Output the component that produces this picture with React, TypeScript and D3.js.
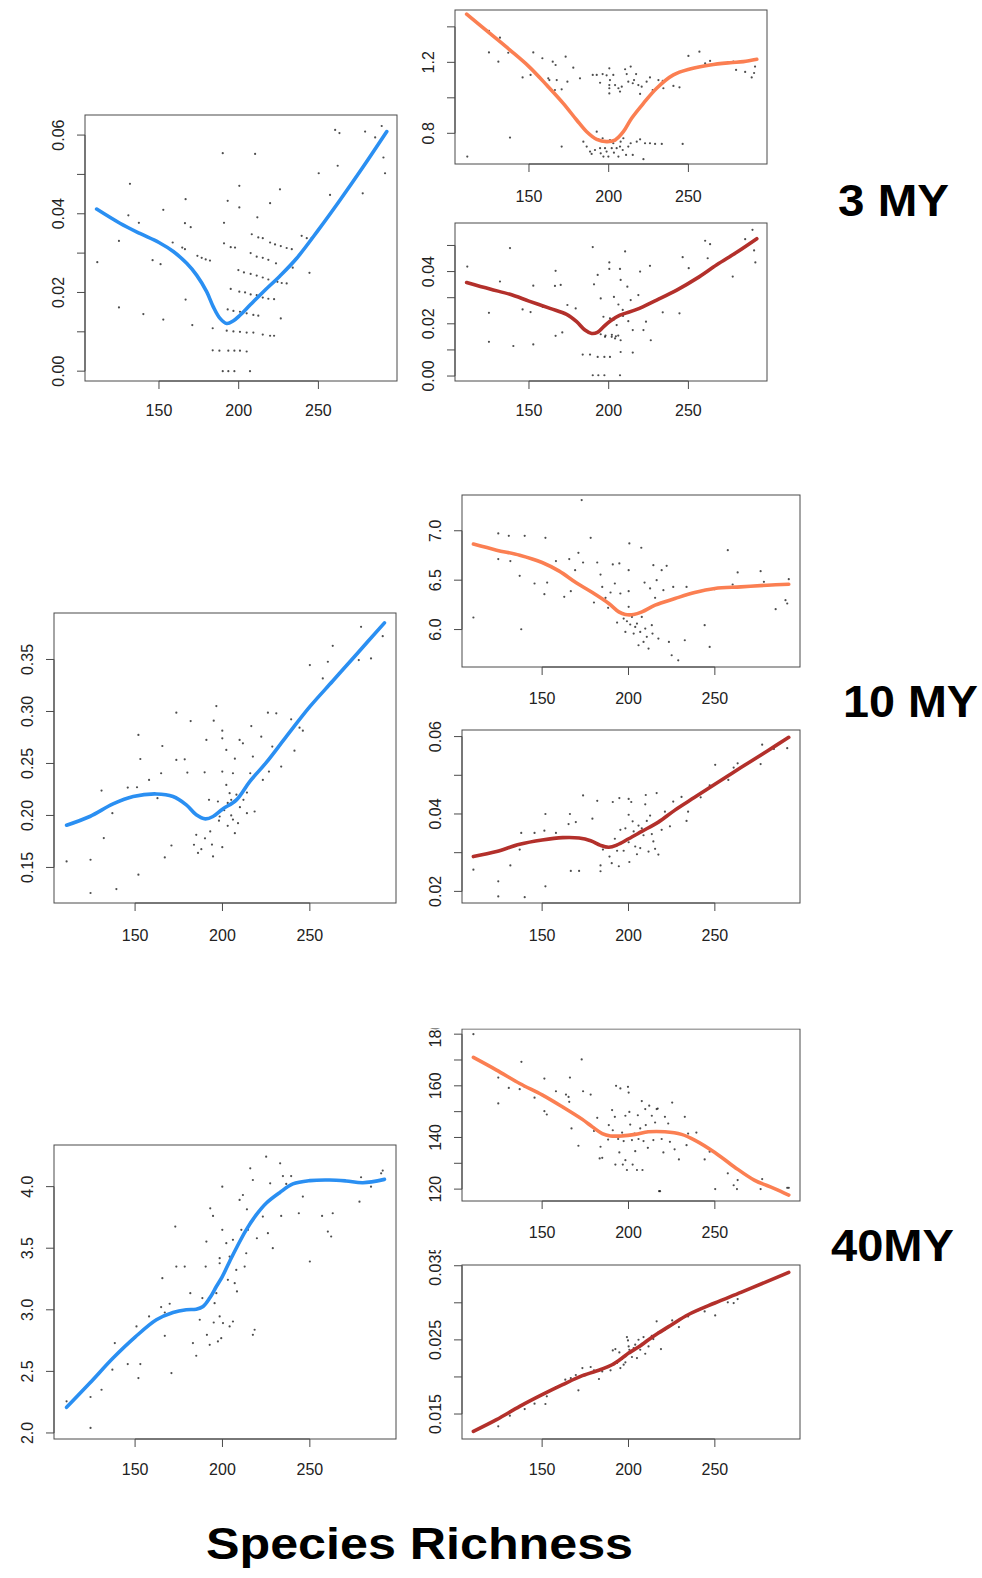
import React from "react";
import * as d3 from "d3";

// x axis (species richness) shared by every panel
const xTicks = [150, 200, 250];
const xDomain = [103.6, 299.3];

// ---- 3 MY ----
const pts3a = [
  [111.3,0.0277],[124.9,0.0331],[124.9,0.0162],[131.8,0.0476],[130.8,0.0396],[137.4,0.0377],[140.2,0.0145],[146.0,0.0282],[151.0,0.0272],[152.7,0.041],[152.7,0.0131],[158.6,0.0327],[164.6,0.0314],[166.3,0.031],[166.7,0.0437],[166.3,0.0376],[166.7,0.0182],[169.9,0.0366],[170.9,0.0117],[174.1,0.0293],[176.8,0.0288],[179.3,0.0284],[182.0,0.0281],[183.7,0.0109],[183.7,0.0053],[187.9,0.0052],[193.5,0.0052],[197.3,0.0052],[200.8,0.0052],[205.0,0.005],[190.0,0.0554],[190.0,0.0],[193.5,0.0],[197.3,0.0],[207.1,0.0],[190.8,0.0377],[190.8,0.0325],[193.1,0.0433],[195.0,0.0315],[197.7,0.0314],[200.4,0.0471],[200.4,0.0416],[210.3,0.0552],[211.7,0.0391],
  [193.1,0.0157],[196.7,0.0153],[200.8,0.0151],[205.0,0.0147],[209.2,0.0143],[212.3,0.0141],
  [192.5,0.0103],[196.7,0.0101],[200.8,0.0100],[205.0,0.0098],[209.2,0.0098],[215.1,0.0093],[219.7,0.0090],[222.2,0.0090],
  [195.0,0.0209],[200.4,0.0202],[204.0,0.0200],[207.5,0.0195],[211.3,0.0193],[215.1,0.0187],[218.6,0.0184],[222.2,0.0183],
  [199.8,0.0257],[203.3,0.0251],[207.5,0.0247],[211.3,0.0243],[215.1,0.0238],[218.6,0.0233],
  [208.2,0.0348],[212.3,0.0340],[215.1,0.0338],[207.5,0.0300],[211.3,0.0291],[215.1,0.0288],[218.6,0.0283],
  [219.7,0.0327],[222.8,0.0322],[226.4,0.0318],[230.1,0.0313],[233.3,0.0310],[224.3,0.0227],[227.0,0.0224],[230.1,0.0223],
  [225.9,0.0462],[226.4,0.0134],[219.7,0.0427],[223.4,0.0274],[233.9,0.0263],[239.5,0.0344],[242.7,0.0338],[245.8,0.0339],[244.4,0.025],[250.2,0.0503],[257.3,0.0448],[262.1,0.0522],[260.5,0.0613],[263.2,0.0605],[279.3,0.0609],[277.8,0.0452],[285.6,0.0594],[289.7,0.0623],[290.8,0.0543],[291.8,0.0503],
];
const fit3a = [
  [110.9,0.0412],[125.5,0.0376],[138,0.035],[150,0.0327],[159,0.0304],[167.4,0.0274],[173.6,0.0244],[179.9,0.0202],[184,0.0164],[188.3,0.0134],[192.5,0.0121],[196.7,0.0128],[200.8,0.0142],[207.1,0.0168],[215.5,0.0202],[225.9,0.0242],[236.4,0.0287],[250,0.0359],[263.6,0.0435],[278.2,0.052],[292.9,0.0609],
];

const pts3b = [
  [111.3,0.669],[124.9,1.377],[131.8,1.339],[124.9,1.256],[130.8,1.204],[137.0,1.254],[138.1,0.776],[146.0,1.115],[151.0,1.129],[152.7,1.256],[158.4,1.223],[162.1,1.110],[162.8,1.100],[164.9,1.204],[166.7,1.185],[167.4,1.100],[166.3,1.044],[170.5,1.048],[173.0,1.232],[174.1,1.091],[177.8,1.170],[182.0,1.110],[170.5,0.725],
  [190.0,1.129],[192.5,1.129],[194.6,1.085],[196.2,1.134],[198.7,1.127],[200.4,1.166],[200.8,1.100],[200.4,1.072],[200.4,1.054],[200.4,1.025],[202.9,1.129],[204.0,1.072],[206.1,1.054],[207.1,1.035],[208.2,1.063],[210.3,1.161],[211.3,1.134],[212.3,1.091],[213.8,1.176],[215.1,1.082],[215.9,1.100],[217.2,1.134],[218.6,1.072],[219.7,1.022],[220.7,1.063],[223.8,1.091],[225.9,1.115],[227.6,1.044],[231.2,1.100],[233.9,1.095],[234.3,1.054],[240.6,1.067],[244.4,1.059],
  [184.1,0.753],[186.2,0.725],[188.3,0.697],[189.3,0.684],[191.4,0.706],[192.5,0.809],[193.5,0.766],[194.6,0.716],[195.0,0.687],[196.2,0.772],[196.7,0.669],[197.7,0.716],[198.7,0.697],[199.8,0.669],[200.8,0.762],[201.9,0.716],[202.9,0.744],[203.3,0.691],[205.0,0.716],[206.1,0.669],[207.1,0.725],[207.5,0.753],[208.8,0.706],[209.2,0.772],[210.9,0.678],[212.3,0.725],[213.8,0.744],[215.1,0.678],[217.6,0.753],[219.7,0.766],[222.8,0.744],[225.9,0.744],[229.1,0.740],[233.3,0.740],[246.4,0.740],[221.8,0.654],
  [250.0,1.236],[256.9,1.260],[260.5,1.194],[263.6,1.208],[278.2,1.204],[279.9,1.157],[285.6,1.146],[289.7,1.115],[291.2,1.140],[291.8,1.176],
];
const fit3b = [
  [110.9,1.472],[125.5,1.363],[138.1,1.269],[150,1.176],[161.1,1.072],[171.5,0.969],[179.9,0.875],[186.2,0.809],[192.5,0.766],[198.7,0.753],[204,0.762],[209.2,0.809],[214.4,0.885],[221.8,0.969],[230.1,1.054],[240.6,1.129],[251,1.162],[263.6,1.185],[276.2,1.198],[284.5,1.204],[292.9,1.217],
];

const pts3c = [
  [111.3,0.0419],[124.9,0.0242],[124.9,0.0131],[131.8,0.0362],[138.1,0.049],[140.2,0.0115],[146,0.0255],[151,0.0245],[152.7,0.0346],[152.7,0.0121],[158.6,0.0265],[166.7,0.0403],[166.3,0.0345],[166.7,0.0154],[169.9,0.0349],[170.9,0.0167],[174.1,0.0272],[179.3,0.0259],[183.7,0.0082],[188.3,0.0082],[190,0.0494],[190.8,0.0351],[193.1,0.0387],[195,0.0297],[196.7,0.0227],[197.7,0.015],[200.4,0.0435],[200.4,0.041],[200.8,0.0221],[201.9,0.015],[203.3,0.0303],[204,0.0144],[206.1,0.0274],[207.1,0.041],[207.5,0.0368],[207.5,0.0137],[207.5,0.0092],[208.8,0.0253],[210.3,0.0477],[211.7,0.0342],[212.3,0.021],[213.8,0.0291],[215.1,0.0176],[215.1,0.009],[218.6,0.031],[219.7,0.04],[221.8,0.0176],[223.4,0.0208],[225.9,0.0422],[226.4,0.0137],[233.9,0.0244],[244.4,0.024],[246.4,0.0455],[250.2,0.0413],[260.5,0.0518],[262.1,0.0451],[263.6,0.0505],[277.8,0.0381],[285.6,0.0524],[290.2,0.056],[291.2,0.0481],[292,0.0435],
  [190,0.0003],[193.5,0.0003],[197.3,0.0003],[207.1,0.0003],[193.1,0.0073],[197.3,0.0073],[200.8,0.0073],
  [195,0.016],[198,0.0155],[202,0.0158],[204.5,0.0152],[206,0.0155],[203,0.0215],[205,0.0195],[209,0.023],
];
const fit3c = [
  [110.9,0.0358],[125.5,0.0333],[138.1,0.0313],[150,0.0287],[163.2,0.0259],[173.6,0.0236],[179.9,0.0208],[185.1,0.0176],[189.3,0.0163],[192.9,0.0167],[196.7,0.0188],[200.8,0.021],[207.1,0.0233],[217.6,0.0255],[230.1,0.0291],[242.7,0.0329],[255.2,0.0374],[267.8,0.0426],[280.3,0.0474],[292.9,0.0526],
];

// ---- 10 MY ----
const pts10a = [
  [110.8,0.1558],[124.5,0.1574],[124.5,0.1254],[130.8,0.2239],[132.1,0.1782],[137.0,0.2022],[139.3,0.1292],[145.8,0.2268],[151.1,0.2271],[151.9,0.2774],[151.9,0.143],[153.0,0.2543],[158.0,0.2342],[162.8,0.2166],[164.9,0.2406],[165.6,0.2668],[167.0,0.1596],[170.8,0.1711],[173.6,0.2988],[173.6,0.2534],[178.4,0.254],[179.9,0.2412],[181.8,0.2908],[183.7,0.1718],[185.0,0.1814],[187.9,0.1676],[189.8,0.2415],[190.8,0.2726],[192.3,0.215],[193.0,0.1846],[194.6,0.1606],[195.0,0.2911],[196.5,0.3052],[197.4,0.2134],[198.4,0.199],[199.9,0.2815],[199.9,0.2742],[199.9,0.2422],[199.9,0.1695],[202.2,0.263],[202.2,0.2294],[204.1,0.2214],[205.0,0.215],[206.0,0.2406],[207.1,0.2546],[207.1,0.183],[208.9,0.1926],[209.8,0.2726],[211.7,0.2694],[213.6,0.2278],[214.0,0.2022],[215.9,0.2406],[216.5,0.286],[217.4,0.2566],[218.4,0.2038],[222.2,0.2758],[223.1,0.2342],[226.0,0.2988],[226.6,0.2422],[228.5,0.2662],[230.8,0.2982],[233.6,0.247],[239.3,0.2924],[241.2,0.2623],[244.1,0.2844],[246.0,0.2815],[250.0,0.3446],[257.4,0.3318],[260.3,0.3478],[263.1,0.3631],[278.0,0.3494],[279.3,0.3814],[285.0,0.351],[291.7,0.3724],
  [196,0.2],[198,0.195],[201,0.205],[203,0.212],[205,0.2],[208,0.22],[210,0.208],[212,0.215],[214,0.222],[203,0.19],[206,0.196],[190,0.178],[194,0.172],[186,0.164],
];
const fit10a = [
  [110.8,0.1906],[124.1,0.199],[137.4,0.2111],[148.9,0.2182],[162.2,0.2207],[171.7,0.2182],[179.3,0.2102],[185,0.2006],[190.2,0.1967],[194.6,0.199],[200,0.206],[208,0.215],[215.6,0.2326],[225,0.2508],[236.5,0.2758],[250,0.3046],[263.1,0.3293],[276.5,0.3546],[292.7,0.3852],
];

const pts10b = [
  [110.2,6.122],[124.6,6.973],[124.6,6.713],[130.7,6.949],[131.6,6.693],[137,6.544],[137.9,6.003],[139.9,6.949],[145.6,6.466],[151.3,6.358],[151.9,6.929],[152.9,6.476],[158,6.693],[162.8,6.331],[165.7,6.713],[166.6,6.389],[169.1,6.601],[171,6.777],[172.9,7.311],[173.7,6.679],[178.1,6.929],[180,6.274],[181.9,6.679],[183.8,6.557],[184.8,6.432],[186.7,6.321],[188.2,6.22],[189.6,6.375],[190.9,6.659],[192.1,6.466],[192.8,6.196],[193.4,6.071],[194.7,6.669],[195.3,6.365],[196.3,6.162],[197.2,6.111],[198.2,5.976],[199.1,6.084],[200.1,6.601],[200.1,6.389],[200.1,6.23],[200.5,6.872],[201,6.051],[202,6.128],[203,5.959],[203.9,6.027],[204.9,6.061],[205.8,5.841],[206.8,5.976],[207.4,6.828],[207.7,6.128],[208.7,5.875],[209.3,6.476],[209.7,6.01],[210.6,5.926],[211.6,5.807],[212.5,6.416],[213.5,6.044],[213.9,5.959],[214.4,6.652],[215.4,6.321],[216.3,6.5],[217.3,5.909],[219.2,6.601],[220.2,6.399],[222.1,6.645],[223.4,5.875],[225,5.74],[225.9,6.432],[228.8,5.689],[232.6,5.892],[233.6,6.432],[244.1,6.044],[247,5.824],[249.8,6.409],[257.5,6.804],[260.3,6.456],[263.2,6.578],[276.5,6.591],[278.4,6.483],[290.9,6.297],[291.9,6.264],[285.2,6.206],[292.8,6.51],
];
const fit10b = [
  [110.2,6.865],[123.6,6.804],[137,6.753],[150,6.679],[159.9,6.591],[169.5,6.476],[179.1,6.375],[188.6,6.264],[194.4,6.179],[198.2,6.152],[203,6.152],[207.8,6.179],[215.4,6.247],[226.9,6.314],[238.3,6.375],[250,6.416],[265.1,6.432],[280.4,6.449],[292.8,6.459],
];

const pts10c = [
  [110.2,0.0256],[124.6,0.0226],[124.6,0.0187],[131.6,0.0267],[137,0.0308],[137.9,0.0351],[139.9,0.0185],[145.6,0.0351],[151.3,0.0357],[151.9,0.04],[151.9,0.0213],[158,0.0351],[165.3,0.0374],[166.1,0.04],[166.6,0.0253],[169.5,0.0379],[171.4,0.0253],[173.7,0.0448],[179.1,0.0388],[181.9,0.0434],[183.8,0.0267],[183.8,0.0252],[185.2,0.0308],[189,0.029],[190.3,0.0273],[190.9,0.0431],[192.1,0.0336],[193.4,0.0305],[194.4,0.0265],[194.7,0.0441],[195.3,0.0359],[196.3,0.0325],[197.2,0.0305],[198.2,0.0363],[199.1,0.0333],[200.1,0.0439],[200.1,0.0398],[200.1,0.0327],[200.5,0.0276],[201.6,0.0431],[202.4,0.0381],[203,0.0355],[203.9,0.0316],[204.9,0.0296],[205.8,0.037],[206.8,0.0312],[207.7,0.0363],[208.7,0.0345],[209.7,0.0425],[210,0.0449],[210.6,0.0382],[211.6,0.0303],[212.5,0.0396],[213.5,0.0348],[214.4,0.0329],[215.4,0.031],[216.3,0.0454],[217.3,0.0295],[218.3,0.0382],[219.2,0.0359],[221.1,0.0406],[224,0.0368],[225.9,0.0432],[226.9,0.0411],[230.7,0.0444],[234.5,0.0406],[233.6,0.0382],[239.3,0.0447],[241.8,0.0443],[244.5,0.0461],[247,0.0474],[250.2,0.0527],[257.8,0.0488],[260.9,0.052],[263.2,0.0531],[276.5,0.0529],[277.4,0.0579],[284.2,0.0568],[291.9,0.057],
];
const fit10c = [
  [110.2,0.029],[123.6,0.0303],[137,0.0322],[150,0.0333],[161.9,0.0339],[171.4,0.0338],[178.1,0.0331],[183.8,0.0319],[188.6,0.0314],[193.4,0.032],[200.1,0.0336],[207.7,0.0355],[217.3,0.0379],[226.9,0.041],[238.3,0.0443],[250,0.0477],[265.1,0.052],[280.4,0.0563],[292.8,0.0598],
];

// ---- 40 MY ----
const pts40a = [
  [110.8,2.257],[124.5,2.292],[124.5,2.041],[130.8,2.351],[137.0,2.514],[138.4,2.73],[145.8,2.559],[150.8,2.865],[151.9,2.446],[153.0,2.559],[158.0,2.946],[164.9,3.022],[165.6,3.257],[167.0,2.978],[167.0,2.789],[169.8,3.049],[170.8,2.486],[173.0,3.676],[173.6,3.351],[178.4,3.351],[181.6,3.135],[183.1,2.73],[185.0,2.627],[187.0,2.919],[188.5,3.095],[190.4,3.351],[190.8,3.554],[191.1,2.797],[192.7,2.716],[193.0,3.824],[194.6,3.762],[195.0,2.897],[195.5,3.054],[196.5,3.135],[197.4,2.743],[198.4,3.378],[199.3,2.77],[199.9,4.0],[204.1,3.432],[206,3.568],[207,3.216],[207.9,3.324],[208.3,3.149],[209.8,3.892],[210.8,3.649],[211.7,3.932],[212.7,3.351],[213.6,3.459],[214,3.816],[214.6,3.649],[215.9,4.149],[217.4,4.054],[217.4,2.797],[218.4,2.838],[219.7,3.581],[223.1,3.757],[225,4.243],[226,3.622],[227.3,4.027],[228.8,3.5],[233,4.189],[233.6,3.762],[234.6,4.086],[236.5,4.022],[239.3,4.086],[241.2,4.027],[243.7,3.784],[246,3.919],[250,3.392],[257,3.762],[260.3,3.635],[262.2,3.595],[263.1,3.784],[278.4,3.878],[279.3,4.076],[285,4.0],[290.8,4.108],[291.7,4.13],[198.4,3.419],[199.9,3.649],[202.2,3.541],[203.1,3.243],[198.4,2.946],[200.3,2.892],[204.1,2.865],[206,2.905],
];
const fit40a = [
  [110.8,2.208],[124.1,2.405],[137.4,2.608],[150,2.778],[162.2,2.919],[171.7,2.978],[179.3,3.0],[185,3.005],[188.9,3.027],[192.7,3.095],[196.5,3.189],[199.9,3.27],[204.1,3.392],[207.9,3.5],[213.6,3.649],[219.3,3.77],[225,3.865],[232.7,3.951],[240.3,4.022],[250,4.049],[261.2,4.054],[270.8,4.046],[280.3,4.032],[292.7,4.059],
];

const pts40b = [
  [110.2,180],[124.6,163.2],[124.6,153.2],[130.7,159.2],[138,169.3],[137,158.7],[139.9,159.6],[145.6,155.4],[151.3,150.2],[152.7,148.9],[151.3,162.8],[158,157.9],[163.8,156.6],[165.3,155.7],[165.7,153.8],[166.1,163.2],[167,143.5],[171,136.8],[172.9,170.2],[173.7,157.9],[178.1,156.6],[180,142.5],[181.9,147.6],[183.3,131.9],[184.8,132.1],[183.8,136.4],[188.2,139.2],[188.6,144.8],[190.5,150.6],[190.9,142.8],[192.1,148],[192.4,129.5],[192.8,160],[194,139.4],[194.7,134.2],[195.3,159],[196.3,141.9],[196.7,129.5],[197.2,138.6],[198.2,148.4],[198.2,131.2],[199.1,127.4],[199.7,159.6],[200.1,157.4],[200.5,149.9],[201,145],[202,139],[202.4,129.5],[203.5,141.5],[203.9,134.7],[204.9,127.4],[205.4,148.6],[205.8,139.4],[206.8,143.5],[207.7,154.1],[208.1,127.4],[208.7,138.6],[209.7,151],[210,144.8],[211.2,136],[211.6,142.5],[212,152.3],[213.5,148.4],[214.4,139],[215.4,145.8],[216.3,151],[216.9,151.2],[217.7,119.2],[218.3,119.2],[219.2,139.4],[220.2,134.2],[221.1,148],[223,145.4],[224,138.3],[225.3,153.5],[226.1,141.9],[226.7,135.4],[229.2,131.5],[232.6,148],[233.6,137],[234.5,141.5],[239.3,141.9],[244.1,131.5],[247,134.5],[250.2,120],[257.5,126.1],[260.9,121.5],[263.2,123.5],[262.8,120],[277.4,123.9],[276.5,120],[291.9,120.5],[292.8,120.5],
];
const fit40b = [
  [110.2,171.0],[123.6,166.1],[137,160.9],[150,156.5],[161.9,151.8],[173.3,147.0],[179.1,144.1],[184.8,141.5],[189.6,140.6],[196.3,140.6],[203.9,141.2],[211.6,142.2],[221.1,142.2],[230.7,141.2],[238.3,139.0],[250,134.2],[261.3,128.6],[272.8,123.5],[284.2,120.3],[292.8,117.7],
];

const pts40c = [
  [124.6,0.01334],[131.3,0.01478],[139.9,0.01567],[145.6,0.01639],[151.9,0.01635],[152.7,0.01738],[158,0.01864],[163.4,0.01963],[166.6,0.01985],[169.5,0.02026],[171,0.01819],[173.3,0.0212],[178.1,0.02134],[180,0.02089],[182.9,0.01972],[184.8,0.02075],[188.2,0.02143],[189.6,0.02089],[190.9,0.02358],[192.4,0.02376],[193.4,0.02188],[194.7,0.02331],[195.3,0.0212],[196.3,0.02242],[197.2,0.02165],[198.2,0.02197],[199.1,0.02538],[199.7,0.02493],[200.1,0.02412],[200.5,0.02367],[201,0.02322],[202,0.02269],[203,0.0239],[203.9,0.02435],[204.9,0.02255],[205.8,0.02502],[206.8,0.02367],[207.7,0.02448],[208.7,0.02538],[209.7,0.02313],[210.6,0.0248],[211.6,0.02412],[213.5,0.02556],[214.4,0.02511],[216.3,0.0275],[217.3,0.02601],[218.8,0.02376],[221.1,0.02637],[223,0.02673],[225.3,0.02763],[229.2,0.02673],[231.6,0.02808],[234.5,0.02817],[240.2,0.02898],[244.1,0.02884],[250.2,0.0283],[257.5,0.03006],[260.9,0.02997],[263.2,0.03051],
];
const fit40c = [
  [110.2,0.01266],[123.6,0.01424],[137,0.01603],[150,0.01761],[161.9,0.01896],[173.3,0.02017],[184.8,0.02107],[190.5,0.02165],[196.3,0.02255],[200.1,0.02322],[205.8,0.02403],[211.6,0.02502],[217.3,0.02592],[225,0.02704],[234.5,0.02839],[250,0.02997],[265.1,0.0314],[280.4,0.03289],[292.8,0.0341],
];

// y tick values and which of them carry a label
const yTicks3a = [0, 0.01, 0.02, 0.03, 0.04, 0.05, 0.06];
const yLabels3a = [0, 0.02, 0.04, 0.06];
const yTicks3b = [0.8, 1.0, 1.2, 1.4];
const yLabels3b = [0.8, 1.2];
const yTicks3c = [0, 0.01, 0.02, 0.03, 0.04, 0.05];
const yLabels3c = [0, 0.02, 0.04];
const yTicks10a = [0.15, 0.2, 0.25, 0.3, 0.35];
const yTicks10b = [6.0, 6.5, 7.0];
const yTicks10c = [0.02, 0.03, 0.04, 0.05, 0.06];
const yLabels10c = [0.02, 0.04, 0.06];
const yTicks40a = [2.0, 2.5, 3.0, 3.5, 4.0];
const yTicks40b = [120, 130, 140, 150, 160, 170, 180];
const yLabels40b = [120, 140, 160, 180];
const yTicks40c = [0.015, 0.02, 0.025, 0.03, 0.035];
const yLabels40c = [0.015, 0.025, 0.035];

const BLUE = "#2a8ff2";
const ORANGE = "#fb7f52";
const RED = "#b3302b";

const panels = [
  { id: "p1", left: 85, top: 115, right: 397, bottom: 381, yDomain: [-0.0025, 0.0651], yTicks: yTicks3a, yLabels: yLabels3a, digits: 2, pts: pts3a, fit: fit3a, color: BLUE, xLab: 410 },
  { id: "p2", left: 455, top: 10, right: 767, bottom: 164, yDomain: [0.627, 1.495], yTicks: yTicks3b, yLabels: yLabels3b, digits: 1, pts: pts3b, fit: fit3b, color: ORANGE, xLab: 196 },
  { id: "p3", left: 455, top: 223, right: 767, bottom: 381, yDomain: [-0.0019, 0.0586], yTicks: yTicks3c, yLabels: yLabels3c, digits: 2, pts: pts3c, fit: fit3c, color: RED, xLab: 410 },
  { id: "p4", left: 54, top: 613, right: 396, bottom: 903, yDomain: [0.1158, 0.3947], yTicks: yTicks10a, yLabels: yTicks10a, digits: 2, pts: pts10a, fit: fit10a, color: BLUE, xLab: 935 },
  { id: "p5", left: 462, top: 495, right: 800, bottom: 667, yDomain: [5.621, 7.362], yTicks: yTicks10b, yLabels: yTicks10b, digits: 1, pts: pts10b, fit: fit10b, color: ORANGE, xLab: 698 },
  { id: "p6", left: 462, top: 730, right: 800, bottom: 903, yDomain: [0.017, 0.0617], yTicks: yTicks10c, yLabels: yLabels10c, digits: 2, pts: pts10c, fit: fit10c, color: RED, xLab: 935 },
  { id: "p7", left: 54, top: 1145, right: 396, bottom: 1439, yDomain: [1.951, 4.338], yTicks: yTicks40a, yLabels: yTicks40a, digits: 1, pts: pts40a, fit: fit40a, color: BLUE, xLab: 1469 },
  { id: "p8", left: 462, top: 1029, right: 800, bottom: 1201, yDomain: [115.4, 182.0], yTicks: yTicks40b, yLabels: yLabels40b, digits: 0, pts: pts40b, fit: fit40b, color: ORANGE, xLab: 1232, clipTop: 1028.4 },
  { id: "p9", left: 462, top: 1265, right: 800, bottom: 1439, yDomain: [0.01163, 0.0351], yTicks: yTicks40c, yLabels: yLabels40c, digits: 3, pts: pts40c, fit: fit40c, color: RED, xLab: 1469, clipTop: 1250 },
];

const titles = [
  { text: "3 MY", x: 838, y: 216, w: 111 },
  { text: "10 MY", x: 843, y: 717, w: 135 },
  { text: "40MY", x: 831, y: 1261, w: 123 },
];

const FONT = "'Liberation Sans', Arial, Helvetica, sans-serif";

function Panel({ p }: { p: any }) {
  const x = d3.scaleLinear().domain(xDomain).range([p.left, p.right]);
  const y = d3.scaleLinear().domain(p.yDomain).range([p.bottom, p.top]);
  const line = d3
    .line<number[]>()
    .x((d) => x(d[0]))
    .y((d) => y(d[1]))
    .curve(d3.curveCatmullRom.alpha(0.5));
  const tick = 8;
  const ink = "#4a4a4a";
  const clip = p.clipTop != null ? `url(#clip-${p.id})` : undefined;
  return (
    <g clipPath={clip}>
      {p.clipTop != null && (
        <defs>
          <clipPath id={`clip-${p.id}`}>
            <rect x={p.left - 70} y={p.clipTop} width={p.right - p.left + 90} height={p.bottom - p.clipTop + 60} />
          </clipPath>
        </defs>
      )}
      {p.pts.map((d: number[], i: number) => (
        <circle key={i} cx={x(d[0])} cy={y(d[1])} r={1.1} fill="#111" opacity={0.75} />
      ))}
      <path d={line(p.fit) || ""} fill="none" stroke={p.color} strokeWidth={3.6} strokeLinecap="round" strokeLinejoin="round" />
      <rect x={p.left} y={p.top} width={p.right - p.left} height={p.bottom - p.top} fill="none" stroke={ink} strokeWidth={1} />
      {/* x axis */}
      <line x1={x(xTicks[0])} x2={x(xTicks[xTicks.length - 1])} y1={p.bottom} y2={p.bottom} stroke={ink} />
      {xTicks.map((t) => (
        <g key={t}>
          <line x1={x(t)} x2={x(t)} y1={p.bottom} y2={p.bottom + tick} stroke={ink} />
          <text x={x(t)} y={p.xLab} textAnchor="middle" dominantBaseline="central" fontSize={16} fill="#222" fontFamily={FONT}>
            {t}
          </text>
        </g>
      ))}
      {/* y axis */}
      <line x1={p.left} x2={p.left} y1={y(p.yTicks[0])} y2={y(p.yTicks[p.yTicks.length - 1])} stroke={ink} />
      {p.yTicks.map((t: number) => (
        <line key={t} x1={p.left} x2={p.left - tick} y1={y(t)} y2={y(t)} stroke={ink} />
      ))}
      {p.yLabels.map((t: number) => (
        <text
          key={t}
          transform={`translate(${p.left - 27},${y(t)}) rotate(-90)`}
          textAnchor="middle"
          dominantBaseline="central"
          fontSize={16}
          fill="#222"
          fontFamily={FONT}
        >
          {t.toFixed(p.digits)}
        </text>
      ))}
    </g>
  );
}

export default function App() {
  return (
    <svg width={982} height={1578} style={{ position: "absolute", left: 0, top: 0, background: "#fff" }}>
      <rect width={982} height={1578} fill="#fff" />
      {panels.map((p) => (
        <Panel key={p.id} p={p} />
      ))}
      {titles.map((t) => (
        <text key={t.text} x={t.x} y={t.y} fontSize={44} fontWeight="bold" fontFamily={FONT} textLength={t.w} lengthAdjust="spacingAndGlyphs">
          {t.text}
        </text>
      ))}
      <text x={206} y={1559} fontSize={45} fontWeight="bold" fontFamily={FONT} textLength={427} lengthAdjust="spacingAndGlyphs">
        Species Richness
      </text>
    </svg>
  );
}
